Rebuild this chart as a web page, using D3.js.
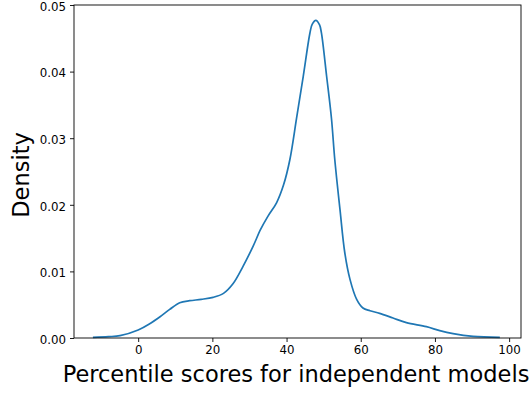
<!DOCTYPE html>
<html>
<head>
<meta charset="utf-8">
<script src="https://cdn.jsdelivr.net/npm/d3@7"></script>
<style>
  html, body { margin: 0; padding: 0; background: #fff; }
  svg text { font-family: "DejaVu Sans", sans-serif; fill: #000; }
</style>
</head>
<body>
<svg id="chart" width="532" height="394"></svg>
<script>
// Kernel density estimate of percentile scores
const scores = [-12.2, -8, -4.9, 0, 3, 5.9, 8.5, 11.2, 13.9, 17, 20.2, 23, 25.5, 28.3, 31, 33, 35, 37.3, 39.2, 40.9, 42.7, 44.5, 46.3, 46.9, 47.9, 48.9, 49.4, 50.8, 52.1, 53.0, 54.4, 55.7, 57.1, 58.9, 60.6, 62.5, 65.1, 68.7, 72.3, 77.7, 81.3, 84.9, 90.3, 97.5];
const density = [0.00008, 0.0002, 0.00035, 0.0012, 0.0021, 0.0032, 0.0043, 0.0053, 0.0056, 0.0058, 0.0061, 0.0067, 0.0081, 0.0108, 0.0138, 0.0163, 0.0183, 0.0203, 0.0230, 0.0268, 0.0330, 0.0393, 0.0458, 0.0471, 0.0477, 0.0470, 0.0458, 0.0393, 0.0330, 0.0268, 0.0193, 0.0128, 0.0088, 0.0058, 0.0045, 0.0041, 0.0037, 0.0030, 0.0023, 0.0017, 0.0011, 0.00065, 0.00024, 0.0001];
const xTicks = [0, 20, 40, 60, 80, 100];
const yTicks = [0, 0.01, 0.02, 0.03, 0.04, 0.05];
const xLabel = "Percentile scores for independent models";
const yLabel = "Density";

const svg = d3.select("#chart");
const plotLeft = 74, plotRight = 521, plotTop = 5, plotBottom = 338;

const x = d3.scaleLinear().domain([-17.3, 103.2]).range([plotLeft, plotRight]);
const y = d3.scaleLinear().domain([0, 0.05]).range([plotBottom, plotTop]);

const points = scores.map((s, i) => ({ s, d: density[i] }));

// axes
const xAxis = d3.axisBottom(x).tickValues(xTicks).tickFormat(d3.format("d")).tickSize(4).tickPadding(4);
const yAxis = d3.axisLeft(y).tickValues(yTicks).tickFormat(d3.format(".2f")).tickSize(4).tickPadding(4);

const gx = svg.append("g").attr("transform", `translate(0,${plotBottom})`).call(xAxis);
const gy = svg.append("g").attr("transform", `translate(${plotLeft},0)`).call(yAxis);
[gx, gy].forEach(g => {
  g.select(".domain").remove();
  g.selectAll(".tick line").attr("stroke", "#000").attr("stroke-width", 0.9);
  g.selectAll(".tick text").attr("font-size", 11.8).attr("fill", "#222");
});
gy.selectAll(".tick text").attr("dy", "0.45em");

// density curve
const line = d3.line()
  .x(p => x(p.s))
  .y(p => y(p.d))
  .curve(d3.curveCatmullRom.alpha(0.5));

svg.append("path")
  .datum(points)
  .attr("fill", "none")
  .attr("stroke", "#1f77b4")
  .attr("stroke-width", 1.7)
  .attr("stroke-linejoin", "round")
  .attr("d", line);

// frame
svg.append("rect")
  .attr("x", plotLeft).attr("y", plotTop)
  .attr("width", plotRight - plotLeft).attr("height", plotBottom - plotTop)
  .attr("fill", "none").attr("stroke", "#000").attr("stroke-width", 0.9);

// axis titles
svg.append("text")
  .attr("x", 296).attr("y", 382)
  .attr("text-anchor", "middle")
  .attr("font-size", 22.5)
  .text(xLabel);

svg.append("text")
  .attr("transform", `translate(28.5,175) rotate(-90)`)
  .attr("text-anchor", "middle")
  .attr("font-size", 22.5)
  .text(yLabel);
</script>
</body>
</html>
